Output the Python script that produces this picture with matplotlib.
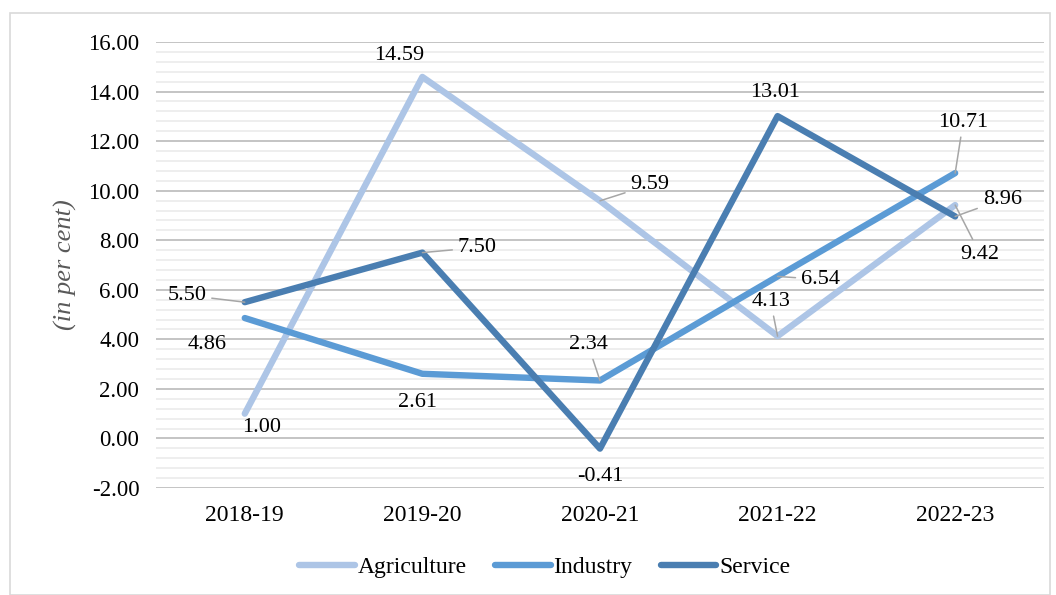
import matplotlib.pyplot as plt
import numpy as np
from matplotlib.patches import Rectangle
from matplotlib.lines import Line2D

plt.rcParams['font.family'] = ['Liberation Serif', 'DejaVu Serif']

years = ['2018-19', '2019-20', '2020-21', '2021-22', '2022-23']
agriculture = [1.00, 14.59, 9.59, 4.13, 9.42]
industry = [4.86, 2.61, 2.34, 6.54, 10.71]
service = [5.50, 7.50, -0.41, 13.01, 8.96]

series_names = ['Agriculture', 'Industry', 'Service']
colors = ['#ADC5E6', '#5B9BD5', '#4A7EB1']

# label offsets in pixels (dx, dy) and whether a leader line is drawn
label_offsets = {
    'Agriculture': [(17, -14, False), (-23, 21, False), (50, 16, True), (-7, 35, True), (25, -49, True)],
    'Industry': [(-38, -26, False), (-5, -29, False), (-12, 36, True), (43, -3, True), (8, 51, True)],
    'Service': [(-58, 7, True), (55, 5, True), (0, -28, False), (-2, 24, False), (47, 17, True)],
}

fig = plt.figure(figsize=(10.56, 5.95), dpi=100)
ax = fig.add_axes([0.1477, 0.1798, 0.8409, 0.7496])

x = np.arange(len(years))
data = [agriculture, industry, service]

for name, vals, col in zip(series_names, data, colors):
    ax.plot(x, vals, color=col, lw=4.6, solid_capstyle='round', solid_joinstyle='round', zorder=3)
    for xi, v, (dx, dy, leader) in zip(x, vals, label_offsets[name]):
        props = None
        if leader:
            props = dict(arrowstyle='-', color='#A6A6A6', lw=1.1, shrinkA=2, shrinkB=0)
        ax.annotate(f'{v:.2f}', xy=(xi, v), xytext=(dx, dy), textcoords='offset pixels',
                    ha='center', va='center', fontsize=16, color='#000000',
                    arrowprops=props, zorder=5)

ax.set_xlim(-0.5, len(years) - 0.5)
ax.set_ylim(-2, 16)
ax.set_yticks(np.arange(-2, 16.1, 2))
ax.set_yticklabels([f'{t:.2f}' for t in np.arange(-2, 16.1, 2)])
ax.set_yticks(np.arange(-2, 16.01, 0.4), minor=True)
ax.set_xticks(x)
ax.set_xticklabels(years)

ax.grid(True, which='major', axis='y', color='#BFBFBF', lw=1.3, zorder=1)
ax.grid(True, which='minor', axis='y', color='#EDEDED', lw=1.3, zorder=0)
for s in ax.spines.values():
    s.set_visible(False)
ax.tick_params(axis='both', which='both', length=0, colors='#000000')
ax.tick_params(axis='x', pad=12, labelsize=17)
ax.tick_params(axis='y', pad=12, labelsize=16.5)

ax.set_ylabel('(in per cent)', fontsize=19, style='italic', color='#595959', labelpad=8)

handles = [Line2D([0], [0], color=c, lw=4.6, solid_capstyle='round') for c in colors]
fig.legend(handles, series_names, loc='center', bbox_to_anchor=(0.516, 0.047), ncol=3,
           frameon=False, fontsize=17, handlelength=2.35, handletextpad=0.12, columnspacing=1.2)

fig.patches.append(Rectangle((0.0095, 0.0), 0.985, 0.978, transform=fig.transFigure,
                             fill=False, edgecolor='#D9D9D9', lw=1.2))

plt.savefig('out.png', dpi=100, facecolor='white')
